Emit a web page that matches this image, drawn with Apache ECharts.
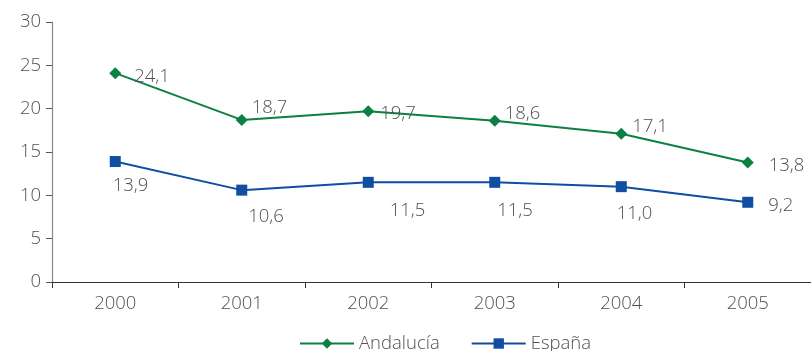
<!DOCTYPE html>
<html><head><meta charset="utf-8">
<script src="https://cdn.jsdelivr.net/npm/echarts@6/dist/echarts.min.js"></script>
<style>html,body{margin:0;padding:0;background:#fff}#c{width:811px;height:351px}</style>
</head><body><div id="c"></div>
<script>
const categories = ['2000','2001','2002','2003','2004','2005'];
const andalucia = [24.1, 18.7, 19.7, 18.6, 17.1, 13.8];
const espana = [13.9, 10.6, 11.5, 11.5, 11.0, 9.2];
const yTicks = [0, 5, 10, 15, 20, 25, 30];

const FONT = 'Open Sans';
const FW = 300;
const TXT = '#505050';
const fmt = v => v.toFixed(1).replace('.', ',');

// label offsets (styling only)
const andOff = [[13,4],[4,-12],[6,2],[4,-7],[5,-7],[15,3]];
const espOff = [[-8,24],[1,27],[16,28],[-3,28],[-10,27],[15,3]];

function mk(vals, offs){
  return vals.map((v,i)=>({value:v, label:{offset:offs[i]}}));
}

const chart = echarts.init(document.getElementById('c'));
chart.setOption({
  animation:false,
  grid:{left:52, top:22, width:764, bottom:69, containLabel:false},
  legend:{
    bottom:-7, left:294, itemWidth:54, itemHeight:13, itemGap:31,
    textStyle:{fontFamily:FONT, fontWeight:FW, fontSize:18.5, color:TXT},
    data:['Andalucía','España']
  },
  xAxis:{
    type:'category', data:categories, boundaryGap:true,
    axisLine:{lineStyle:{color:'#333', width:1.2}},
    axisTick:{show:true, length:6, lineStyle:{color:'#333'}},
    axisLabel:{fontFamily:FONT, fontWeight:FW, fontSize:18.5, color:TXT, margin:12}
  },
  yAxis:{
    type:'value', min:yTicks[0], max:yTicks[yTicks.length-1], interval:5,
    axisLine:{show:true, lineStyle:{color:'#888', width:1.2}},
    axisTick:{show:true, length:6, lineStyle:{color:'#555'}},
    splitLine:{show:false},
    axisLabel:{fontFamily:FONT, fontWeight:FW, fontSize:18.5, color:TXT, margin:11}
  },
  series:[
    {name:'Andalucía', type:'line', data:mk(andalucia, andOff),
     symbol:'diamond', symbolSize:12, itemStyle:{color:'#0a8042'},
     lineStyle:{color:'#0a8042', width:2},
     label:{show:true, position:'right', distance:0, fontFamily:FONT, fontWeight:FW, fontSize:18.5, color:TXT, formatter:p=>fmt(p.value)}},
    {name:'España', type:'line', data:mk(espana, espOff),
     symbol:'rect', symbolSize:11, itemStyle:{color:'#0f4ea2'},
     lineStyle:{color:'#0f4ea2', width:2},
     label:{show:true, position:'right', distance:0, fontFamily:FONT, fontWeight:FW, fontSize:18.5, color:TXT, formatter:p=>fmt(p.value)}}
  ]
});
</script></body></html>
